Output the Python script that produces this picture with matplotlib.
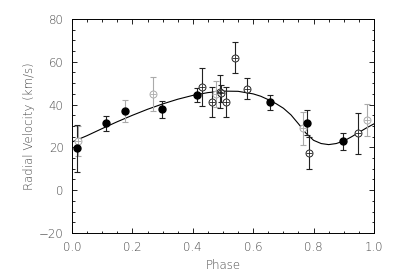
import matplotlib
matplotlib.use("Agg")
import matplotlib.pyplot as plt
from matplotlib.ticker import MultipleLocator

# Filled (black) points
fx = [0.018, 0.113, 0.175, 0.297, 0.414, 0.657, 0.779, 0.898]
fy = [19.5, 31.3, 37.0, 37.8, 44.5, 41.0, 31.6, 22.9]
fe = [11.0, 3.5, 5.0, 4.1, 3.2, 3.3, 6.0, 3.9]
fgray = [False, False, True, False, False, False, False, False]

# Open (circle with cross) points
ox = [0.021, 0.269, 0.430, 0.463, 0.477, 0.489, 0.495, 0.510, 0.541, 0.579, 0.764, 0.784, 0.946, 0.978]
oy = [23.0, 44.8, 48.2, 41.2, 45.0, 46.0, 45.3, 41.2, 61.9, 47.5, 28.9, 17.2, 26.6, 32.8]
oe = [7.0, 8.0, 8.8, 7.2, 6.1, 7.6, 4.0, 6.8, 7.2, 4.7, 7.8, 7.5, 9.5, 7.6]
ogray = [True, True, False, False, True, False, False, False, False, False, True, False, False, True]

# Model curve
cx = [0.0, 0.05, 0.1, 0.15, 0.2, 0.25, 0.3, 0.35, 0.4, 0.45, 0.5, 0.55, 0.6, 0.625, 0.65,
      0.675, 0.7, 0.725, 0.75, 0.775, 0.8, 0.825, 0.85, 0.875, 0.9, 0.925, 0.95, 0.975, 1.0]
cy = [22.5, 25.5, 28.8, 32.0, 35.0, 37.8, 40.3, 42.5, 44.3, 45.6, 46.3, 46.2, 45.0, 43.9, 42.3,
      40.5, 38.3, 35.2, 31.0, 26.6, 23.3, 21.8, 21.3, 21.8, 23.0, 24.9, 27.0, 29.1, 31.0]

xticks = [0.0, 0.2, 0.4, 0.6, 0.8, 1.0]
yticks = [-20, 0, 20, 40, 60, 80]

fig = plt.figure(figsize=(4.15, 2.78), dpi=100)
ax = fig.add_axes([0.1735, 0.1619, 0.7277, 0.7698])

txtc = "#4a4a4a"
gray = "#aaaaaa"
fs = 8.5

ax.plot(cx, cy, color="black", lw=0.8, zorder=2)

for x, y, e, g in zip(ox, oy, oe, ogray):
    c = gray if g else "#222222"
    ax.errorbar([x], [y], yerr=[e], fmt="none", ecolor=c, elinewidth=0.8,
                capsize=2.5, capthick=0.8, zorder=3)
    ax.plot([x], [y], marker="o", ms=5, mfc="white", mec=c, mew=0.7, ls="none", zorder=4)
    ax.plot([x], [y], marker="+", ms=5, mec=c, mew=0.6, ls="none", zorder=5)

for x, y, e, g in zip(fx, fy, fe, fgray):
    c = gray if g else "#222222"
    ax.errorbar([x], [y], yerr=[e], fmt="none", ecolor=c, elinewidth=0.8,
                capsize=2.5, capthick=0.8, zorder=3)
    ax.plot([x], [y], marker="o", ms=5, mfc="black", mec="black", ls="none", zorder=6)

ax.set_xlim(0.0, 1.0)
ax.set_ylim(-20, 80)
ax.set_xticks(xticks)
ax.set_xticklabels([f"{v:.1f}" for v in xticks])
ax.set_yticks(yticks)
ax.set_yticklabels([f"{v}" if v >= 0 else f"\u2212{-v}" for v in yticks])
ax.xaxis.set_minor_locator(MultipleLocator(0.05))
ax.yaxis.set_minor_locator(MultipleLocator(5))
ax.tick_params(which="both", direction="in", top=True, right=True,
               colors="black", labelcolor=txtc, labelsize=fs, width=0.6)
ax.tick_params(which="major", length=3.5)
ax.tick_params(which="minor", length=1.8)
ax.tick_params(axis="y", pad=6)
ax.tick_params(axis="x", pad=6)
for lab in ax.get_xticklabels() + ax.get_yticklabels():
    lab.set_fontweight("light")
for s in ax.spines.values():
    s.set_linewidth(0.7)

ax.set_xlabel("Phase", fontsize=fs, color=txtc, labelpad=4, fontweight="light")
ax.set_ylabel("Radial Velocity (km/s)", fontsize=fs, color=txtc, labelpad=3, fontweight="light")

fig.savefig("out.png", dpi=100)
